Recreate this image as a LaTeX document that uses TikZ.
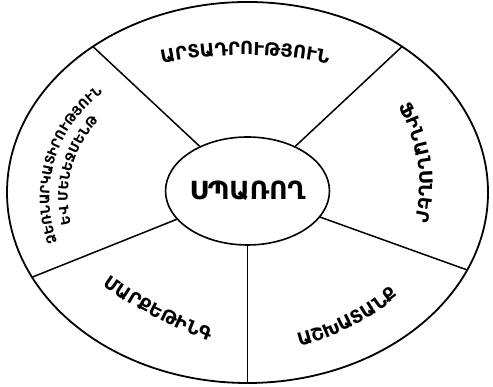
\documentclass[tikz,border=0pt]{standalone}
\usepackage{fontspec}
\usepackage{tikz}
\usetikzlibrary{positioning,calc,shapes.geometric,decorations.text}
\newfontfamily\armfont{DejaVu Sans}
\newcommand{\armb}{\armfont\bfseries}

\begin{document}
\begin{tikzpicture}[x=1pt,y=1pt,
  divider/.style={line width=1.5pt},
  armlabel/.style 2 args={decorate,decoration={text along path,text align=center,
      text={|\armb\fontsize{#1}{#1}\selectfont|#2}}}]
\useasboundingbox (0,0) rectangle (493,387);

% outer ring and the ends of the spokes on it
\coordinate (oc) at (247.5,194.5);
\draw[line width=1.8pt] (oc) ellipse [x radius=240.5pt, y radius=190.5pt];
\coordinate (tl) at ($(oc)+(130:240.5pt and 190.5pt)$);
\coordinate (tr) at ($(oc)+(50:240.5pt and 190.5pt)$);
\coordinate (rr) at ($(oc)+(-24:240.5pt and 190.5pt)$);
\coordinate (bb) at ($(oc)+(270:240.5pt and 190.5pt)$);
\coordinate (ll) at ($(oc)+(206.4:240.5pt and 190.5pt)$);

% centre
\node[ellipse,draw,line width=1.6pt,minimum width=150pt,minimum height=108pt,inner sep=0pt,
  font=\armb\fontsize{25pt}{30pt}\selectfont] (consumer) at (247.5,196) {ՍՊԱՌՈՂ};

% spokes
\foreach \c in {tl,tr,rr,bb,ll}
  \draw[divider] (consumer) -- (\c);

% sector labels
\path[armlabel={18pt}{ԱՐՏԱԴՐՈՒԹՅՈՒՆ}] (111.7,309.8) .. controls (200.6,339.4) and (289.4,339.4) .. (378.3,309.8);
\path[armlabel={18pt}{ՖԻՆԱՆՍՆԵՐ}] (380,307.8) .. controls (422.5,253.6) and (430.7,196.1) .. (404.5,135.2);
\path[armlabel={18pt}{ԱՇԽԱՏԱՆՔ}] (258.8,32.7) .. controls (326.3,40.8) and (382.9,69.6) .. (428.8,119.3);
\path[armlabel={18pt}{ՄԱՐՔԵԹԻՆԳ}] (71.4,125.5) .. controls (122.7,82.0) and (181.0,51.5) .. (246.4,33.9);

% left sector, two lines
\coordinate (lc) at (178.8,189.3);
\path[armlabel={13pt}{ՁԵՌՆԱՐԿԱՏԻՐՈՒԹՅՈՒՆ}] ($(lc)+(235:129.4pt)$) arc[start angle=235,end angle=91,radius=129.4pt];
\path[armlabel={13pt}{ԵՎ ՄԵՆԵՋՄԵՆԹ}] ($(lc)+(237:111pt)$) arc[start angle=237,end angle=93,radius=111pt];
\end{tikzpicture}
\end{document}
